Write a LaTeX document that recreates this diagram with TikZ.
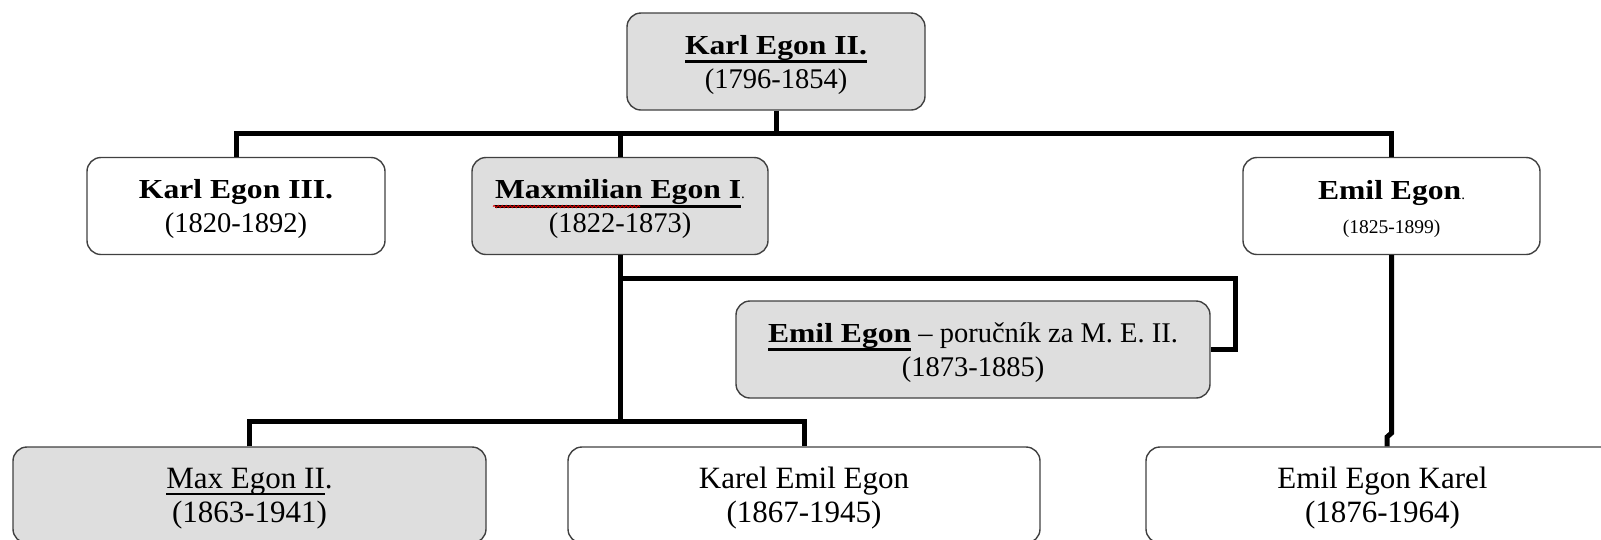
\documentclass[tikz,border=0pt]{standalone}
\usepackage{fontspec}
\setmainfont{Liberation Serif}
\newfontfamily\regf{Liberation Serif}
\newfontfamily\boldf{Liberation Serif}[FakeStretch=1.15]
\usetikzlibrary{decorations.pathmorphing}
\newcommand\nm[1]{{\boldf\bfseries\fontsize{27.5}{34}\selectfont #1}}
\newcommand\dt[1]{{\regf\fontsize{28.5}{34}\selectfont #1}}
\newcommand\bt[1]{{\regf\fontsize{31}{34}\selectfont #1}}
\newcommand\smdot{{\regf\fontsize{15}{34}\selectfont .}}
\newcommand\tstrut[1]{\rule{0pt}{#1}}
\newcommand\ulb[1]{\leavevmode\setbox0\hbox{#1}\rlap{\rule[-9pt]{\wd0}{3pt}}\box0}
\newcommand\ulr[1]{\leavevmode\setbox0\hbox{#1}\rlap{\rule[-6.5pt]{\wd0}{1.8pt}}\box0}
\tikzset{
  box/.style={draw=black!75, line width=1.4pt, rounded corners=14pt,
    minimum height=97pt, align=center, inner sep=0pt,
    font=\fontsize{28.5}{34}\selectfont},
  gbox/.style={box, fill=black!13},
  conn/.style={line width=5pt, line join=miter},
  squig/.style={red!85!black, line width=0.9pt,
    decorate, decoration={snake, amplitude=1.1pt, segment length=4pt}}
}
\begin{document}
\begin{tikzpicture}[x=1pt,y=-1pt]
\useasboundingbox (0,0) rectangle (1601,539);
\clip (0,0) rectangle (1601,539);
% nodes
\node[gbox, minimum width=298pt] (k2) at (776,61.5)
  {\tstrut{26pt}\nm{\ulb{Karl Egon II.}}\\\dt{(1796-1854)}};
\node[box, minimum width=298pt] (k3) at (236,206)
  {\tstrut{26pt}\nm{Karl Egon III.}\\\dt{(1820-1892)}};
\node[gbox, minimum width=296pt] (m1) at (620,206)
  {\tstrut{26pt}\nm{\ulb{Maxmilian Egon I}}\smdot\\\dt{(1822-1873)}};
\node[box, minimum width=297pt] (ee) at (1391.5,206)
  {\tstrut{26pt}\nm{Emil Egon}\smdot\\{\regf\fontsize{19.5}{34}\selectfont (1825-1899)}};
\node[gbox, minimum width=474pt] (reg) at (973,349.5)
  {\tstrut{26pt}\nm{\ulb{Emil Egon}}\dt{ – poručník za M. E. II.}\\\dt{(1873-1885)}};
\node[gbox, minimum width=473pt, minimum height=96pt] (mx) at (249.5,495)
  {\tstrut{27.5pt}\bt{\ulr{Max Egon II}.}\\\bt{(1863-1941)}};
\node[box, minimum width=472pt, minimum height=96pt] (ke) at (804,495)
  {\tstrut{27.5pt}\bt{Karel Emil Egon}\\\bt{(1867-1945)}};
\node[box, minimum width=473pt, minimum height=96pt] (ek) at (1382.5,495)
  {\tstrut{27.5pt}\bt{Emil Egon Karel}\\\bt{(1876-1964)}};
% spell-check squiggle
\coordinate (sq1) at (493,206.5);
\coordinate (sq2) at (640,206.5);
\draw[squig] (sq1) -- (sq2);
% connectors
\coordinate (t) at (776,133);
\draw[conn] (k2.south) -- (t);
\draw[conn] (k3.north) |- (ee.north |- t) -- (ee.north);
\draw[conn] (m1.north) -- (m1.north |- t);
\coordinate (b) at (620,421);
\draw[conn] (m1.south) -- (m1.south |- b);
\draw[conn] (mx.north) |- (ke.north |- b) -- (ke.north);
\coordinate (r1) at (1235,278);
\draw[conn] (m1.south |- r1) -- (r1) |- (reg.east);
\coordinate (j1) at (1391.5,433);
\coordinate (j2) at (1387,437);
\draw[conn] (ee.south) -- (j1) -- (j2) -- (j2 |- ek.north);
\end{tikzpicture}
\end{document}
